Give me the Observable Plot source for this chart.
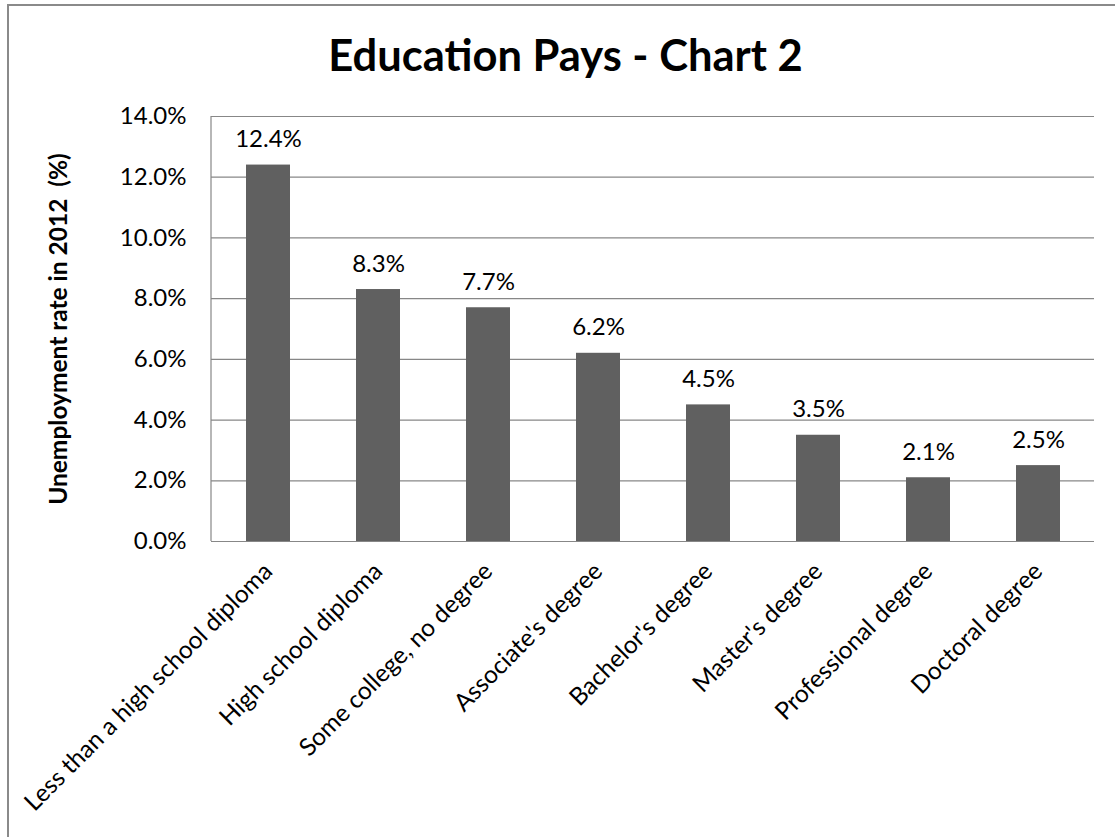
<!DOCTYPE html>
<html><head><meta charset="utf-8">
<script src="https://cdn.jsdelivr.net/npm/d3@7"></script>
<script src="https://cdn.jsdelivr.net/npm/@observablehq/plot@0.6"></script>
<style>
html,body{margin:0;padding:0;background:#fff;overflow:hidden;}
#wrap{position:relative;width:1115px;height:837px;overflow:hidden;font-family:Lato,"Open Sans",sans-serif;}
#border{position:absolute;left:7px;top:4px;width:2000px;height:2000px;border-left:2px solid #8a8a8a;border-top:2px solid #8a8a8a;}
#title{position:absolute;left:7px;width:1117px;top:33px;text-align:center;font-size:43.5px;font-weight:bold;line-height:1;color:#000;}
#chart{position:absolute;left:0;top:0;}
</style></head><body>
<div id="wrap"><div id="border"></div><div id="chart"></div><div id="title"></div></div>
<script>
const title = "Education Pays - Chart 2";
const yLabel = "Unemployment rate in 2012  (%)";
const categories = [
  "Less than a high school diploma",
  "High school diploma",
  "Some college, no degree",
  "Associate's degree",
  "Bachelor's degree",
  "Master's degree",
  "Professional degree",
  "Doctoral degree"
];
const rates = [12.4, 8.3, 7.7, 6.2, 4.5, 3.5, 2.1, 2.5];
const yTicks = [0, 2, 4, 6, 8, 10, 12, 14];

const data = categories.map((c, i) => ({category: c, rate: rates[i]}));
const fmt = v => v.toFixed(1) + "%";
const gray = "#878787";
const fs = 24;

document.getElementById("title").textContent = title;

const leftAxisLine = (index, scales, values, dimensions) => {
  const x = dimensions.marginLeft;
  return d3.create("svg:line")
    .attr("x1", x).attr("x2", x)
    .attr("y1", scales.y(yTicks[yTicks.length - 1]))
    .attr("y2", scales.y(0))
    .attr("stroke", gray)
    .attr("stroke-width", 1.2)
    .node();
};

const chart = Plot.plot({
  width: 1115,
  height: 837,
  marginLeft: 211,
  marginRight: 21,
  marginTop: 116,
  marginBottom: 296,
  style: {fontFamily: "Lato, 'Open Sans', sans-serif", fontSize: fs + "px", color: "#000", background: "transparent", overflow: "visible"},
  x: {domain: categories, paddingInner: 0.6, paddingOuter: 0.3, axis: null},
  y: {domain: [0, 14], axis: null},
  marks: [
    Plot.gridY(yTicks, {stroke: gray, strokeOpacity: 1, strokeWidth: 1.2}),
    leftAxisLine,
    Plot.barY(data, {x: "category", y: "rate", fill: "#606060"}),
    Plot.axisY(yTicks, {tickSize: 0, tickPadding: 25, tickFormat: fmt, fontSize: fs, label: null}),
    Plot.text(data, {x: "category", y: "rate", text: d => fmt(d.rate), lineAnchor: "bottom", dy: -18, fontSize: fs}),
    Plot.text(categories, {x: d => d, frameAnchor: "bottom", rotate: -45, textAnchor: "end", lineAnchor: "top", dx: -7, dy: 19, fontSize: 24.5}),
    Plot.text([yLabel], {frameAnchor: "left", rotate: -90, textAnchor: "middle", dx: -145, lineAnchor: "bottom", fontWeight: "bold", fontSize: 24.5})
  ]
});
document.getElementById("chart").appendChild(chart);
</script>
</body></html>
